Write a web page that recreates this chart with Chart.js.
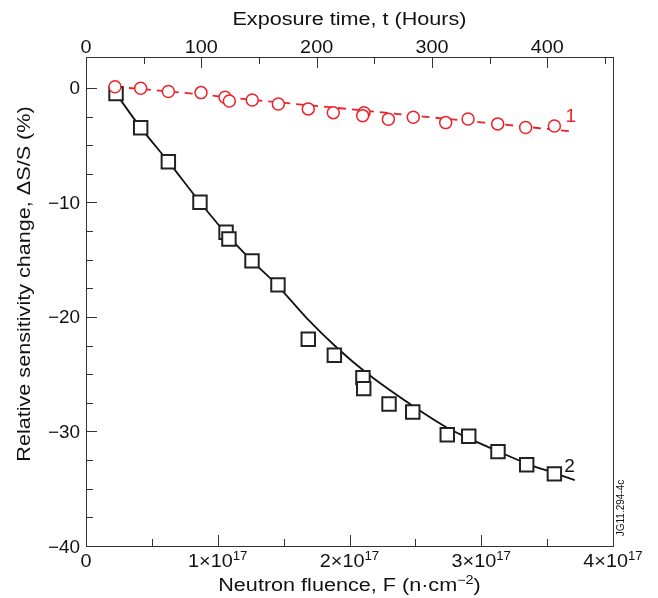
<!DOCTYPE html>
<html lang="en">
<head>
    <meta charset="UTF-8">
    <title>Sensitivity change vs neutron fluence</title>
    <script src="https://cdn.jsdelivr.net/npm/chart.js"></script>
    <style>
        body { margin: 0; background: #fff; }
        canvas { display: block; }
    </style>
</head>
<body>
    <canvas id="fluenceChart" width="658" height="598"></canvas>
    <script>
        // fluence in units of 1e17 n/cm^2, change in %
        const circleFluence = [0.22, 0.415, 0.625, 0.873, 1.055, 1.088, 1.262, 1.46, 1.687, 1.877, 2.11, 2.10, 2.295, 2.484, 2.73, 2.90, 3.125, 3.337, 3.555];
        const circleChange  = [0.1, -0.03, -0.32, -0.41, -0.81, -1.14, -1.05, -1.40, -1.83, -2.16, -2.16, -2.42, -2.73, -2.56, -3.03, -2.71, -3.14, -3.46, -3.32];

        const squareFluence = [0.228, 0.415, 0.625, 0.865, 1.063, 1.085, 1.26, 1.457, 1.687, 1.885, 2.102, 2.108, 2.30, 2.48, 2.742, 2.905, 3.127, 3.345, 3.555];
        const squareChange  = [-0.5, -3.47, -6.44, -9.98, -12.6, -13.2, -15.1, -17.2, -21.95, -23.35, -25.3, -26.26, -27.6, -28.3, -30.28, -30.42, -31.76, -32.9, -33.7];

        // fitted curves
        const fit1Fluence = [0.22, 0.74, 1.36, 2.0, 2.56, 3.0, 3.43, 3.70];
        const fit1Change  = [0.1, -0.42, -1.15, -1.85, -2.5, -3.0, -3.5, -3.81];
        const fit2Fluence = [0.228, 0.415, 0.625, 0.865, 1.085, 1.26, 1.457, 1.675, 1.915, 2.13, 2.484, 2.738, 2.915, 3.13, 3.345, 3.56, 3.71];
        const fit2Change  = [-0.5, -3.47, -6.44, -9.98, -13.0, -15.1, -17.3, -20.1, -22.8, -24.9, -27.8, -29.65, -30.65, -31.75, -32.8, -33.65, -34.24];

        // axis ticks
        const fluenceTicks = [0, 1, 2, 3, 4];
        const hourTicks = [0, 100, 200, 300, 400];
        const changeTicks = [0, -10, -20, -30, -40];

        const RED = '#ee2229';
        const INK = '#111';
        const FONT = 'Liberation Sans, Arial, Helvetica, sans-serif';

        const pts = (xs, ys) => xs.map((x, i) => ({ x: x, y: ys[i] }));
        const fixed = size => scale => {
            if (scale.isHorizontal()) scale.height = size; else scale.width = size;
        };
        const setTicks = arr => scale => { scale.ticks = arr.map(v => ({ value: v })); };

        // text with optional superscript parts, stretched along its direction
        function drawRich(ctx, parts, x, y, opt) {
            let w = 0;
            parts.forEach(p => {
                ctx.font = p.size + 'px ' + FONT;
                p.w = ctx.measureText(p.t).width;
                w += p.w;
            });
            ctx.save();
            ctx.translate(x, y);
            if (opt.rot) ctx.rotate(opt.rot);
            ctx.scale(opt.sx || 1, 1);
            let cx = opt.align === 'center' ? -w / 2 : opt.align === 'right' ? -w : 0;
            ctx.textAlign = 'left';
            ctx.textBaseline = 'alphabetic';
            ctx.fillStyle = opt.color || INK;
            parts.forEach(p => {
                ctx.font = p.size + 'px ' + FONT;
                ctx.fillText(p.t, cx, p.dy || 0);
                cx += p.w;
            });
            ctx.restore();
        }

        const TICK = 18, SUP = 12, TITLE = 18;

        const axisArt = {
            id: 'axisArt',
            afterDatasetsDraw(chart) {
                const { ctx, chartArea: a, scales } = chart;
                ctx.save();
                ctx.strokeStyle = '#333';
                ctx.lineWidth = 1;
                ctx.strokeRect(a.left + 0.5, a.top + 0.5, a.right - a.left, a.bottom - a.top);
                ctx.beginPath();
                for (let v = 0; v <= 4.001; v += 0.5) {
                    const px = Math.round(scales.x.getPixelForValue(v)) + 0.5;
                    const len = Math.abs(v % 1) < 0.01 ? 11 : 7;
                    ctx.moveTo(px, a.bottom); ctx.lineTo(px, a.bottom - len);
                }
                for (let v = 0; v <= 450; v += 50) {
                    const px = Math.round(scales.x2.getPixelForValue(v)) + 0.5;
                    const len = v % 100 === 0 ? 11 : 7;
                    ctx.moveTo(px, a.top); ctx.lineTo(px, a.top + len);
                }
                for (let v = 0; v >= -40; v -= 2.5) {
                    const py = Math.round(scales.y.getPixelForValue(v)) + 0.5;
                    const len = v % 10 === 0 ? 11 : 7;
                    ctx.moveTo(a.left, py); ctx.lineTo(a.left + len, py);
                }
                ctx.stroke();
                ctx.restore();

                // tick labels
                fluenceTicks.forEach(v => {
                    const parts = v === 0 ? [{ t: '0', size: TICK }]
                        : [{ t: v + '×10', size: TICK }, { t: '17', size: SUP, dy: -7 }];
                    drawRich(ctx, parts, scales.x.getPixelForValue(v), a.bottom + 21, { sx: 1.1, align: 'center' });
                });
                hourTicks.forEach(v => {
                    drawRich(ctx, [{ t: String(v), size: TICK }], scales.x2.getPixelForValue(v), a.top - 4, { sx: 1.1, align: 'center' });
                });
                changeTicks.forEach(v => {
                    const txt = v < 0 ? '−' + Math.abs(v) : String(v);
                    drawRich(ctx, [{ t: txt, size: TICK }], a.left - 6, scales.y.getPixelForValue(v) + 6.5, { sx: 1.05, align: 'right' });
                });

                // axis titles
                const midX = (a.left + a.right) / 2;
                drawRich(ctx, [{ t: 'Exposure time, t (Hours)', size: TITLE }], midX, 25, { sx: 1.2, align: 'center' });
                drawRich(ctx, [{ t: 'Neutron fluence, F (n·cm', size: TITLE }, { t: '−2', size: SUP, dy: -7 }, { t: ')', size: TITLE }],
                    midX, 591, { sx: 1.2, align: 'center' });
                drawRich(ctx, [{ t: 'Relative sensitivity change, ΔS/S (%)', size: TITLE }], 30, 284, { sx: 1.2, align: 'center', rot: -Math.PI / 2 });

                // series labels
                drawRich(ctx, [{ t: '1', size: 19 }], scales.x.getPixelForValue(3.64), scales.y.getPixelForValue(-2.96), { color: RED });
                drawRich(ctx, [{ t: '2', size: 19 }], scales.x.getPixelForValue(3.63), scales.y.getPixelForValue(-33.55), {});

                // figure id
                drawRich(ctx, [{ t: 'JG11.294-4c', size: 10 }], 624, 508, { align: 'center', rot: -Math.PI / 2 });
            }
        };

        new Chart(document.getElementById('fluenceChart'), {
            type: 'scatter',
            data: {
                datasets: [{
                    data: pts(circleFluence, circleChange),
                    pointStyle: 'circle',
                    pointRadius: 6,
                    pointBorderWidth: 1.5,
                    borderColor: RED,
                    backgroundColor: '#fff',
                    order: 0
                }, {
                    data: pts(squareFluence, squareChange),
                    pointStyle: 'rect',
                    pointRadius: 9.5,
                    pointBorderWidth: 2,
                    borderColor: '#222',
                    backgroundColor: '#fff',
                    order: 0
                }, {
                    type: 'line',
                    data: pts(fit1Fluence, fit1Change),
                    borderColor: RED,
                    borderWidth: 1.8,
                    borderDash: [8, 6],
                    pointRadius: 0,
                    fill: false,
                    order: 2
                }, {
                    type: 'line',
                    data: pts(fit2Fluence, fit2Change),
                    borderColor: INK,
                    borderWidth: 1.8,
                    pointRadius: 0,
                    cubicInterpolationMode: 'monotone',
                    fill: false,
                    order: 2
                }]
            },
            options: {
                responsive: false,
                animation: false,
                layout: { padding: { left: 0, right: 45, top: 0, bottom: 0 } },
                plugins: {
                    legend: { display: false },
                    tooltip: { enabled: false }
                },
                scales: {
                    x: {
                        type: 'linear',
                        position: 'bottom',
                        min: 0,
                        max: 4,
                        afterFit: fixed(52),
                        afterBuildTicks: setTicks(fluenceTicks),
                        grid: { display: false },
                        border: { display: false },
                        ticks: { display: false }
                    },
                    x2: {
                        type: 'linear',
                        position: 'top',
                        min: 0,
                        max: 457,
                        afterFit: fixed(57),
                        afterBuildTicks: setTicks(hourTicks),
                        grid: { display: false },
                        border: { display: false },
                        ticks: { display: false }
                    },
                    y: {
                        type: 'linear',
                        position: 'left',
                        min: -40,
                        max: 2.7,
                        afterFit: fixed(86),
                        afterBuildTicks: setTicks(changeTicks),
                        grid: { display: false },
                        border: { display: false },
                        ticks: { display: false }
                    }
                }
            },
            plugins: [axisArt]
        });
    </script>
</body>
</html>
